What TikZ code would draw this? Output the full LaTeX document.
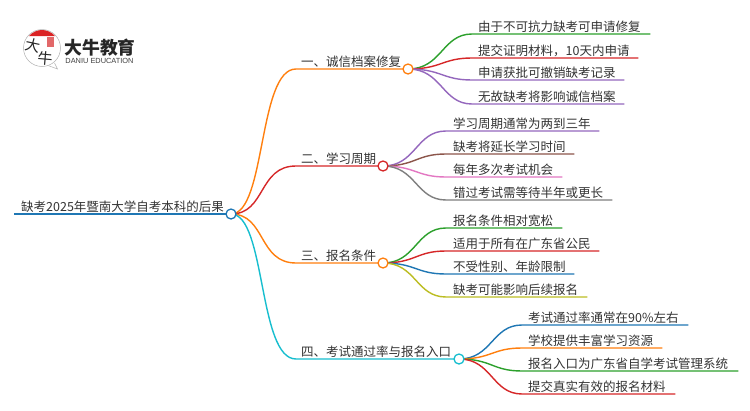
\documentclass[tikz,border=0pt]{standalone}
\usepackage{fontspec}
\setmainfont{Noto Sans CJK SC}
\newfontfamily\logolat{Liberation Sans}
\definecolor{cblue}{HTML}{1F77B4}
\definecolor{corange}{HTML}{FF7F0E}
\definecolor{cred}{HTML}{D62728}
\definecolor{ccyan}{HTML}{17BECF}
\definecolor{cgreen}{HTML}{2CA02C}
\definecolor{cpurple}{HTML}{9467BD}
\definecolor{cbrown}{HTML}{8C564B}
\definecolor{cpink}{HTML}{E377C2}
\definecolor{cgray}{HTML}{7F7F7F}
\definecolor{colive}{HTML}{BCBD22}
\definecolor{ctext}{HTML}{333333}
\tikzset{
  txt/.style={anchor=base west,inner sep=0pt,text=ctext,font=\fontsize{12.5}{14}\selectfont},
  hub/.style={circle,draw=#1,fill=white,line width=1.3pt,minimum size=10pt,inner sep=0pt},
  link/.style={line width=1.4pt,line cap=round},
  pt/.style={inner sep=0pt,outer sep=0pt}
}
% #1 from hub, #2 colour, #3 control x, #4 line-start x, #5 line-end x, #6 y, #7 text x, #8 name, #9 text
\newcommand{\leafnode}[9]{%
  \coordinate (#8s) at (#4,#6);
  \coordinate (#8e) at (#5,#6);
  \coordinate (#8m) at (#3,#6);
  \draw[link,#2] (#1) .. controls (#1 -| #8m) and (#8m) .. (#8s) -- (#8e);
  \node[txt] (#8) at (#7,#6-3) {#9};
}
\begin{document}
\begin{tikzpicture}[x=1pt,y=-1pt]
\useasboundingbox[fill=white] (0,0) rectangle (750,410);
\coordinate (root) at (231,214);
\coordinate (a) at (408,69);
\coordinate (b) at (383,166);
\coordinate (c) at (383,263);
\coordinate (d) at (459,359);
\coordinate (rootl) at (14,214);
% main branches
\draw[line width=2pt,cblue] (rootl) -- (root);
\coordinate (as) at (296,69);
\coordinate (bs) at (296,166);
\coordinate (cs) at (296,263);
\coordinate (ds) at (296,359);
\draw[link,corange] (root) .. controls (266,214) and (258,69) .. (as) -- (a);
\draw[link,cred] (root) .. controls (266,214) and (258,166) .. (bs) -- (b);
\draw[link,corange] (root) .. controls (266,214) and (258,263) .. (cs) -- (c);
\draw[link,ccyan] (root) .. controls (266,214) and (258,359) .. (ds) -- (d);
% leaves
\leafnode{a}{cgreen}{442}{472}{650}{34}{478}{a1}{由于不可抗力缺考可申请修复}
\leafnode{a}{cred}{442}{472}{638}{58}{478}{a2}{提交证明材料，10天内申请}
\leafnode{a}{cpurple}{442}{472}{624}{80}{478}{a3}{申请获批可撤销缺考记录}
\leafnode{a}{cpurple}{442}{472}{624}{104}{478}{a4}{无故缺考将影响诚信档案}
\leafnode{b}{cpurple}{416}{446}{599}{131}{453}{b1}{学习周期通常为两到三年}
\leafnode{b}{cbrown}{416}{446}{574}{154}{453}{b2}{缺考将延长学习时间}
\leafnode{b}{cpink}{416}{446}{562}{177}{453}{b3}{每年多次考试机会}
\leafnode{b}{cgray}{416}{446}{612}{200}{453}{b4}{错过考试需等待半年或更长}
\leafnode{c}{cgreen}{416}{446}{562}{228}{453}{c1}{报名条件相对宽松}
\leafnode{c}{cred}{416}{446}{599}{251}{453}{c2}{适用于所有在广东省公民}
\leafnode{c}{cblue}{416}{446}{574}{274}{453}{c3}{不受性别、年龄限制}
\leafnode{c}{colive}{416}{446}{587}{297}{453}{c4}{缺考可能影响后续报名}
\leafnode{d}{cblue}{492}{522}{688}{325}{528}{d1}{考试通过率通常在90\%左右}
\leafnode{d}{corange}{492}{522}{662}{348}{528}{d2}{学校提供丰富学习资源}
\leafnode{d}{cgreen}{492}{522}{738}{371}{528}{d3}{报名入口为广东省自学考试管理系统}
\leafnode{d}{cred}{492}{522}{675}{394}{528}{d4}{提交真实有效的报名材料}
% hub circles
\node[hub=cblue] (rootc) at (root) {};
\node[hub=corange] (ac) at (a) {};
\node[hub=cred] (bc) at (b) {};
\node[hub=corange] (cc) at (c) {};
\node[hub=ccyan] (dc) at (d) {};
% branch and root labels
\node[txt] (roott) at (21,211) {缺考2025年暨南大学自考本科的后果};
\node[txt] (at) at (301,66) {一、诚信档案修复};
\node[txt] (bt) at (301,163) {二、学习周期};
\node[txt] (ct) at (301,260) {三、报名条件};
\node[txt] (dt) at (301,356) {四、考试通过率与报名入口};
% logo
\draw[line width=.5pt,draw=black!30,fill=white] (54.5,63) -- (57.5,69) -- (48,65.5);
\draw[line width=.5pt,draw=black!30,fill=white] (42,48) circle (18.5);
\fill[cred!90!red] (29,36) .. controls (36,28) and (48,28) .. (55,36) -- cycle;
\fill[cred!70!white] (46.5,37) rectangle (54,47);
\node[pt,text=black!85,rotate=-12,font=\fontsize{15}{15}\selectfont] (logoa) at (33,45) {大};
\node[pt,text=black!85,rotate=-5,font=\fontsize{15}{15}\selectfont] (logob) at (45,58) {牛};
\node[pt,text=black!85,anchor=center,font=\fontsize{17.8}{18}\selectfont\bfseries] (logoc) at (100,47.5) {大牛教育};
\node[pt,text=black!75,anchor=center,font=\logolat\fontsize{7.4}{8}\selectfont] (logod) at (99.5,60.5) {DANIU EDUCATION};
\end{tikzpicture}
\end{document}
